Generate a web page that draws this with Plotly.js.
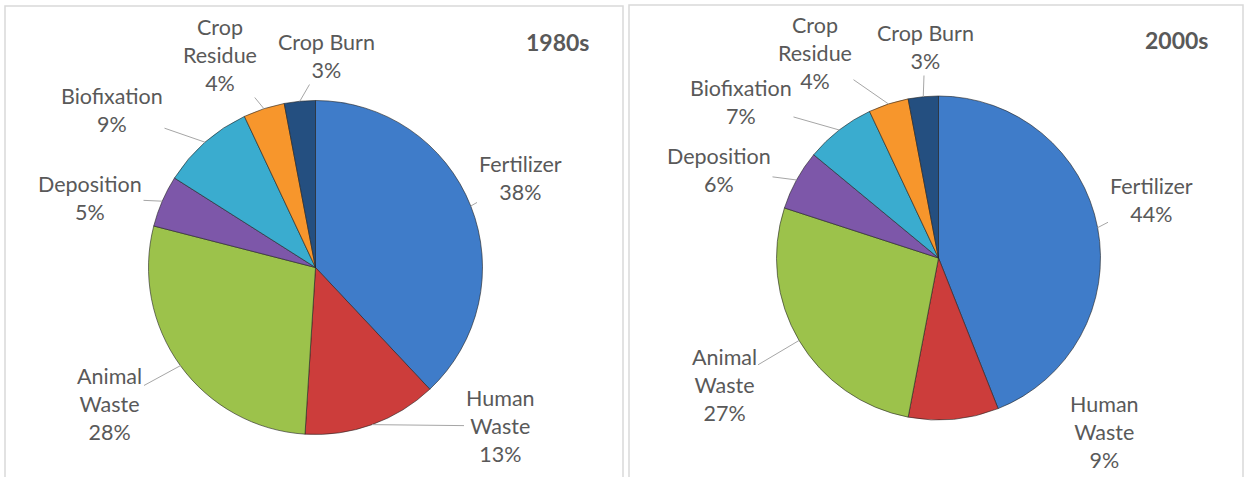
<!DOCTYPE html>
<html>
<head>
<meta charset="utf-8">
<script src="https://cdn.plot.ly/plotly-3.0.1.min.js"></script>
<style>
  html, body { margin: 0; padding: 0; background: #ffffff; }
  #chart { width: 1245px; height: 477px; }
</style>
</head>
<body>
<div id="chart"></div>
<script>
// ---- data ----
const categories = ['Fertilizer', 'Human Waste', 'Animal Waste', 'Deposition', 'Biofixation', 'Crop Residue', 'Crop Burn'];
const labelLines = ['Fertilizer', 'Human<br>Waste', 'Animal<br>Waste', 'Deposition', 'Biofixation', 'Crop<br>Residue', 'Crop Burn'];
const values1980 = [38, 13, 28, 5, 9, 4, 3];
const values2000 = [44, 9, 27, 6, 7, 4, 3];
const panelTitles = ['1980s', '2000s'];

// ---- styles / layout positions (pixels) ----
const W = 1245, H = 477;
const sliceColors = ['#3f7cc9', '#cc3d3b', '#9cc24b', '#7d57a9', '#3aaccf', '#f7962c', '#244f80'];
const pies = [
  { cx: 315.5, cy: 267.5, r: 167, values: values1980, title: panelTitles[0], titlePos: [557, 42],
    labelPos: [[520, 178], [500, 426], [110, 404], [90, 198], [112, 110], [220, 55], [326, 56]],
    arrows: [true, true, true, true, true, true, true] },
  { cx: 938.5, cy: 258, r: 162, values: values2000, title: panelTitles[1], titlePos: [1176, 40],
    labelPos: [[1151, 200], [1104, 432], [724, 385], [719, 170], [741, 102], [815, 53], [925, 47]],
    arrows: [true, false, true, true, true, true, true] }
];
const panels = [[5, 623, 6], [629, 1243, 5]];
const textColor = '#595959';
const fontFamily = 'Lato, "Open Sans", sans-serif';
const labelSize = 21.5;

const traces = [];
const annotations = [];
pies.forEach(p => {
  traces.push({
    type: 'pie',
    labels: categories,
    values: p.values,
    sort: false,
    direction: 'clockwise',
    rotation: 0,
    textinfo: 'none',
    hoverinfo: 'none',
    showlegend: false,
    marker: { colors: sliceColors, line: { color: 'rgba(35,35,35,0.6)', width: 1 } },
    domain: { x: [(p.cx - p.r) / W, (p.cx + p.r) / W], y: [1 - (p.cy + p.r) / H, 1 - (p.cy - p.r) / H] }
  });
  const total = p.values.reduce((a, b) => a + b, 0);
  let cum = 0;
  p.values.forEach((v, i) => {
    const mid = (cum + v / 2) / total * 2 * Math.PI;
    cum += v;
    const tx = p.cx + p.r * Math.sin(mid);
    const ty = p.cy - p.r * Math.cos(mid);
    const [lx, ly] = p.labelPos[i];
    const txt = labelLines[i] + '<br>' + Math.round(v / total * 100) + '%';
    if (p.arrows[i]) {
      annotations.push({
        xref: 'paper', yref: 'paper', x: tx / W, y: 1 - ty / H,
        axref: 'pixel', ayref: 'pixel', ax: lx - tx, ay: ly - ty,
        showarrow: true, arrowhead: 0, arrowwidth: 1, arrowcolor: '#a6a6a6', standoff: 0, startstandoff: 0,
        text: txt, align: 'center', font: { family: fontFamily, size: labelSize, color: textColor }
      });
    } else {
      annotations.push({
        xref: 'paper', yref: 'paper', x: lx / W, y: 1 - ly / H, xanchor: 'center', yanchor: 'middle',
        showarrow: false, text: txt, align: 'center',
        font: { family: fontFamily, size: labelSize, color: textColor }
      });
    }
  });
  annotations.push({
    xref: 'paper', yref: 'paper', x: p.titlePos[0] / W, y: 1 - p.titlePos[1] / H,
    xanchor: 'center', yanchor: 'middle', showarrow: false,
    text: '<b>' + p.title + '</b>',
    font: { family: fontFamily, size: 23, color: textColor }
  });
});

const shapes = panels.map(([x0, x1, y0]) => ({
  type: 'rect', xref: 'paper', yref: 'paper',
  x0: x0 / W, x1: x1 / W, y0: -0.05, y1: 1 - y0 / H,
  line: { color: '#d9d9d9', width: 1.5 }, fillcolor: 'rgba(0,0,0,0)'
}));

Plotly.newPlot('chart', traces, {
  width: W, height: H,
  margin: { l: 0, r: 0, t: 0, b: 0 },
  paper_bgcolor: '#ffffff', plot_bgcolor: '#ffffff',
  annotations: annotations,
  shapes: shapes
}, { displayModeBar: false, staticPlot: true });
</script>
</body>
</html>
